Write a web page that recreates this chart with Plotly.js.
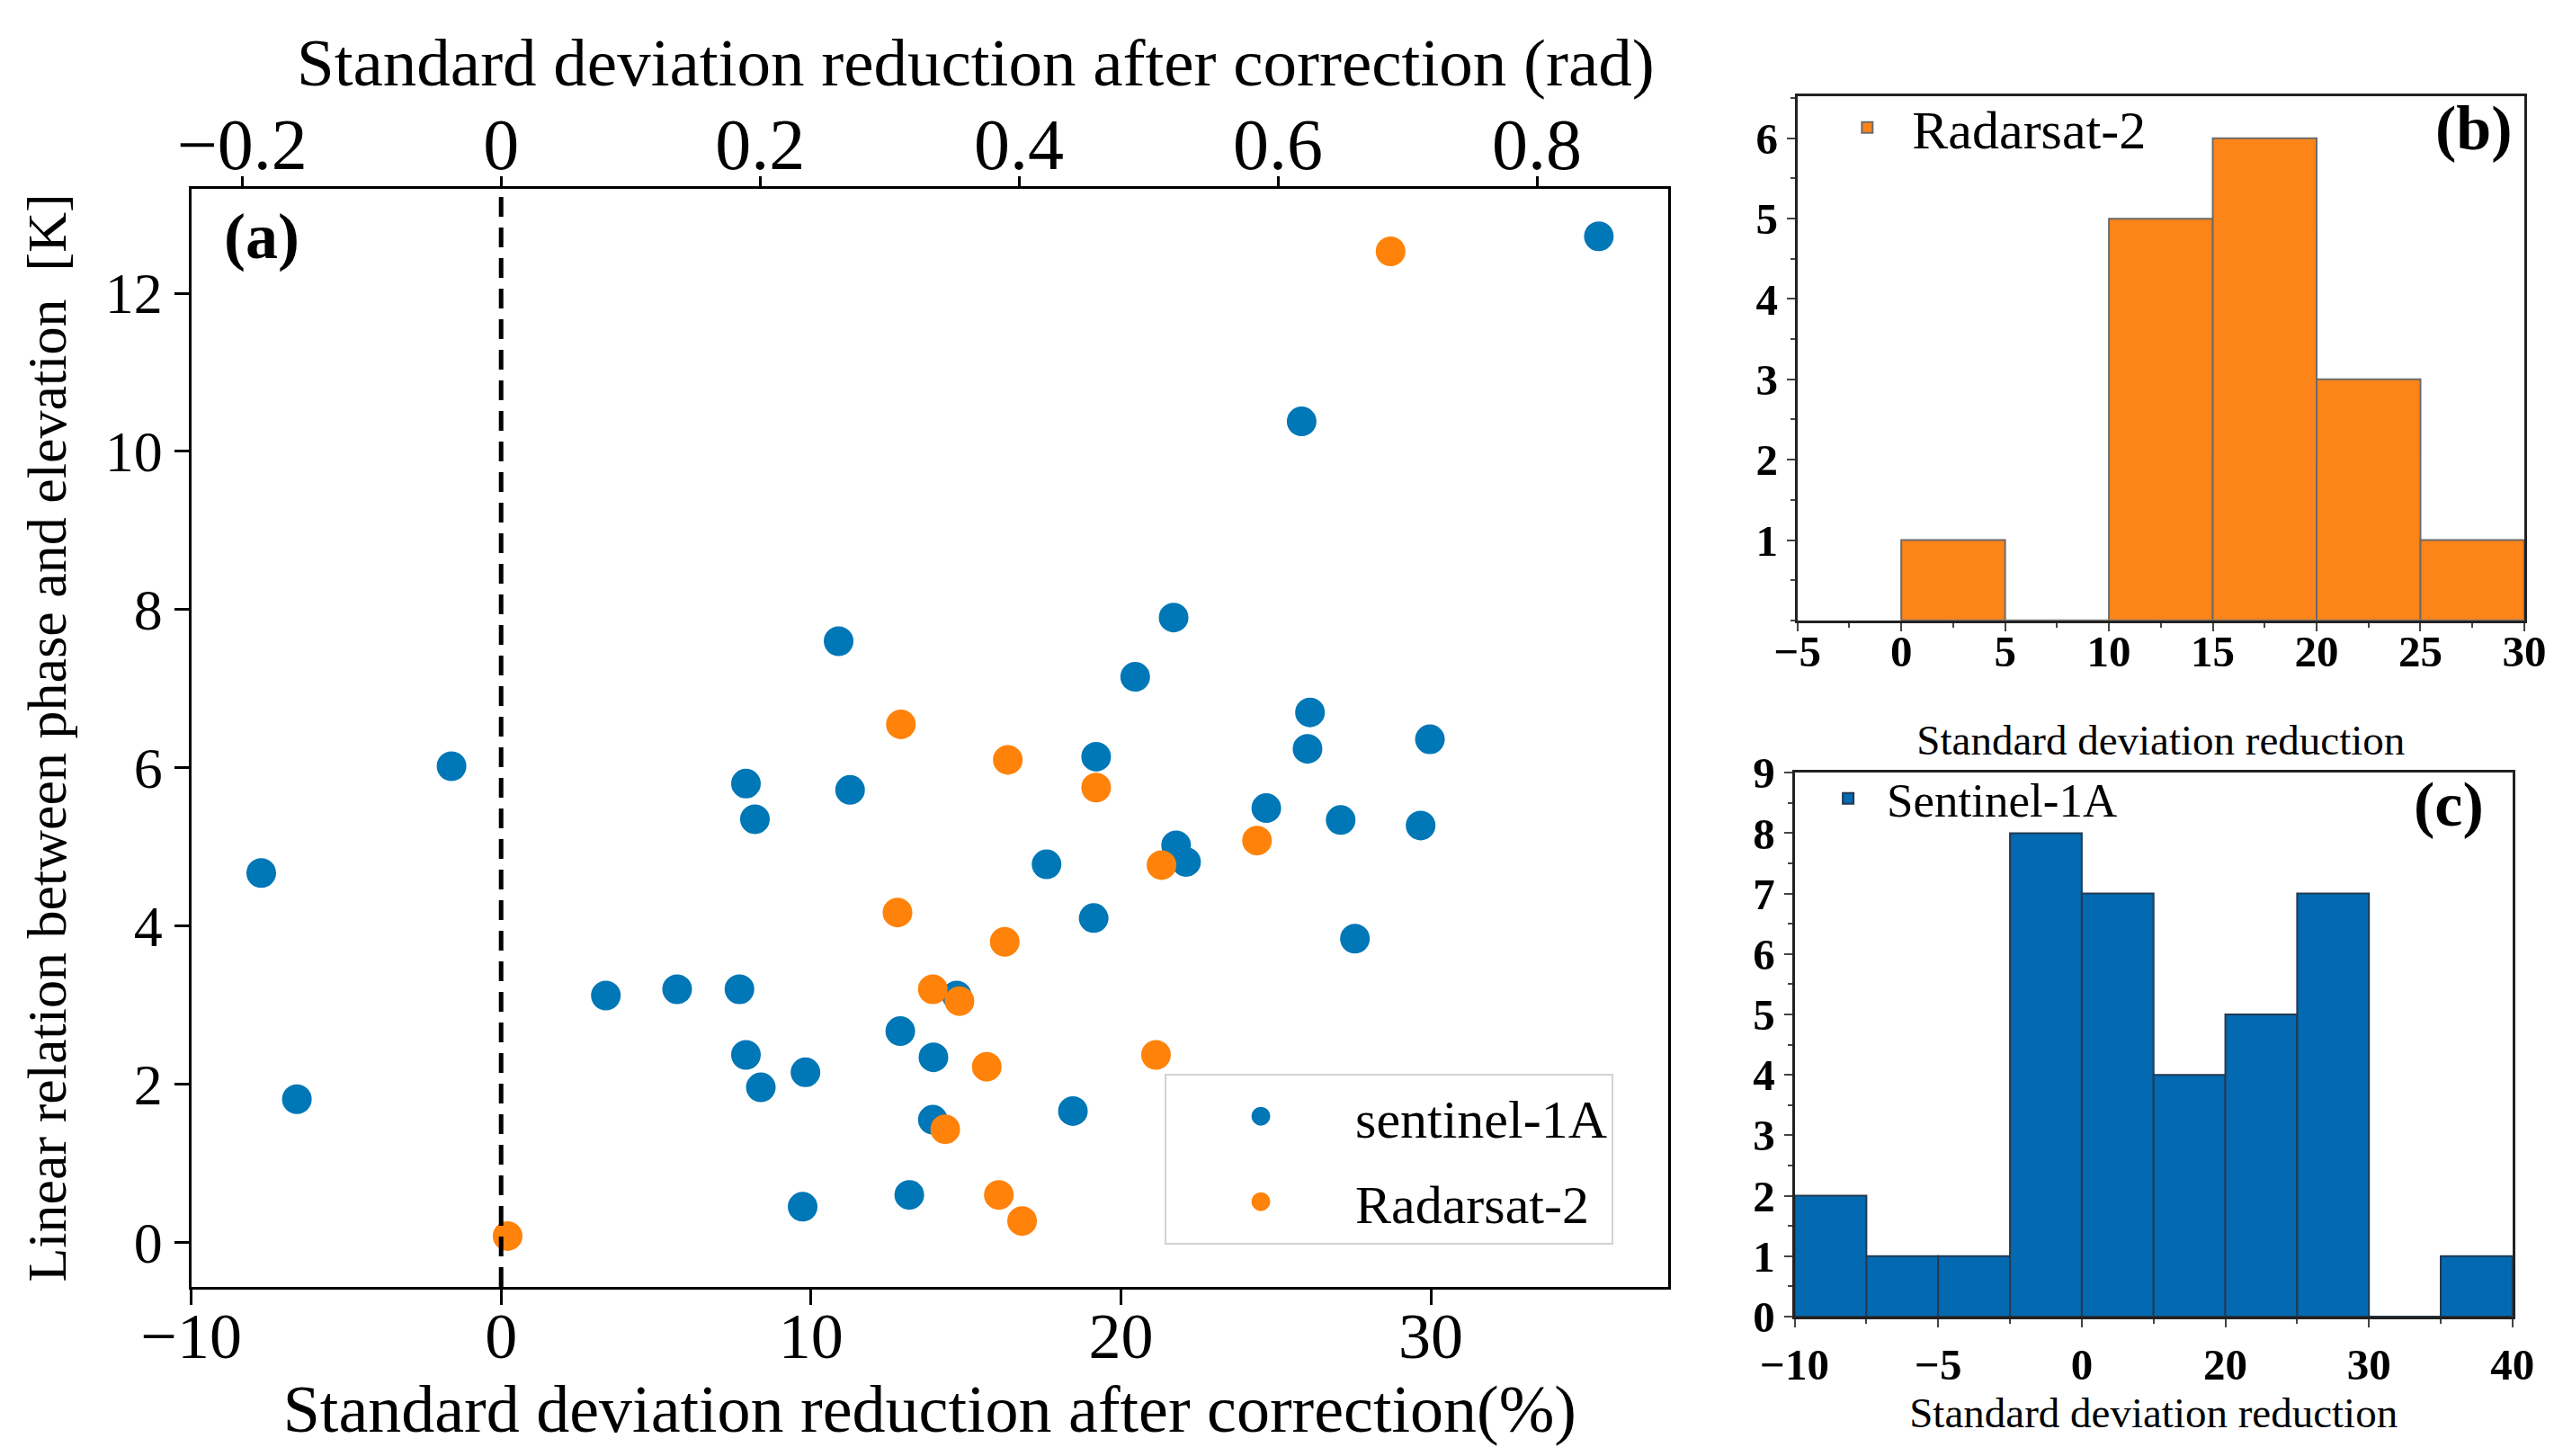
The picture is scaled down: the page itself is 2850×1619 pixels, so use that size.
<!DOCTYPE html>
<html>
<head>
<meta charset="utf-8">
<script src="https://cdn.plot.ly/plotly-3.0.1.min.js"></script>
<style>html,body{margin:0;padding:0;background:#fff;}#chart{width:2850px;height:1619px;}</style>
</head>
<body>
<div id="chart"></div>
<script>
// ---- Panel (a): scatter data (std. deviation reduction %, linear relation K) ----
var s1X = [35.42, 25.83, 10.89, 21.7, 20.46, -1.60, -7.74, -6.59, 7.90, 8.19, 11.26, 19.20,
           26.10, 26.02, 29.97, 24.69, 27.09, 29.67, 21.78, 22.10, 17.6, 19.12, 27.55, 3.38,
           5.68, 7.69, 7.90, 8.38, 9.82, 12.88, 13.95, 14.70, 13.93, 18.45, 9.73, 13.17];
var s1Y = [12.72, 10.38, 7.60, 7.90, 7.15, 6.02, 4.67, 1.81, 5.80, 5.35, 5.72, 6.14,
           6.70, 6.24, 6.36, 5.49, 5.34, 5.27, 5.02, 4.81, 4.78, 4.10, 3.84, 3.12,
           3.20, 3.20, 2.37, 1.96, 2.15, 2.67, 2.34, 3.12, 1.55, 1.66, 0.45, 0.60];
var rsX = [28.70, 12.9, 16.35, 19.20, 24.39, 21.31, 12.79, 16.25, 13.93, 14.79, 15.67, 21.13,
           14.33, 16.06, 16.81, 0.21];
var rsY = [12.53, 6.55, 6.10, 5.75, 5.08, 4.77, 4.17, 3.80, 3.20, 3.05, 2.22, 2.37,
           1.43, 0.60, 0.27, 0.08];

// ---- Panel (b): Radarsat-2 histogram ----
var rsBinEdges = [0, 5, 10, 15, 20, 25, 30];
var rsCounts = [1, 0, 5, 6, 3, 1];

// ---- Panel (c): Sentinel-1A histogram ----
var s1BinEdges = [-10, -5, 0, 5, 10, 15, 20, 25, 30, 35, 40];
var s1Counts = [2, 1, 1, 8, 7, 4, 5, 7, 0, 1];

// ---- tick labels ----
var cTickVals = [-10, 0, 10, 20, 30, 40];
var cTickText = ['\u221210', '\u22125', '0', '20', '30', '40'];

function mids(edges){ var m=[]; for(var i=0;i<edges.length-1;i++){ m.push((edges[i]+edges[i+1])/2); } return m; }
function widths(edges){ var w=[]; for(var i=0;i<edges.length-1;i++){ w.push(edges[i+1]-edges[i]); } return w; }

var SERIF = 'Liberation Serif, Times New Roman, serif';
var BLUE = '#0077b6', ORANGE = '#ff820a';

var traces = [
  {type:'scatter', mode:'markers', x:s1X, y:s1Y, name:'sentinel-1A', xaxis:'x', yaxis:'y',
   marker:{color:BLUE, size:28, line:{width:5, color:BLUE}}, legend:'legend', legendgroup:'g1'},
  {type:'scatter', mode:'markers', x:rsX, y:rsY, name:'Radarsat-2', xaxis:'x', yaxis:'y',
   marker:{color:ORANGE, size:28, line:{width:5, color:ORANGE}}, legend:'legend', legendgroup:'g2'},
  {type:'scatter', mode:'markers', x:[], y:[], xaxis:'x2', yaxis:'y', showlegend:false, hoverinfo:'skip'},
  {type:'bar', x:mids(rsBinEdges), y:rsCounts, width:widths(rsBinEdges), name:'Radarsat-2',
   xaxis:'x3', yaxis:'y3', legend:'legend2',
   marker:{color:'#fd8418', line:{color:'#6b6b6b', width:2}}},
  {type:'bar', x:mids(s1BinEdges), y:s1Counts, width:widths(s1BinEdges), name:'Sentinel-1A',
   xaxis:'x4', yaxis:'y4', legend:'legend3',
   marker:{color:'#0369b1', line:{color:'#223a52', width:2}}}
];

var axA = {showgrid:false, zeroline:false, showline:true, linecolor:'#000', linewidth:3,
           ticks:'outside', tickcolor:'#000', tickwidth:3};
function merge(a,b){ var o={}; for(var k in a) o[k]=a[k]; for(var k2 in b) o[k2]=b[k2]; return o; }

var histAx = {showgrid:false, zeroline:false, showline:true, mirror:true, linecolor:'#222', linewidth:3,
              ticks:'outside', ticklen:9, tickwidth:2, tickcolor:'#444',
              tickfont:{family:SERIF, size:49, color:'#000', weight:'bold'}};

var layout = {
  width:2850, height:1619, margin:{l:0,r:0,t:0,b:0},
  paper_bgcolor:'#fff', plot_bgcolor:'#fff',
  font:{family:SERIF, color:'#000'},
  bargap:0,
  showlegend:true,
  xaxis: merge(axA, {domain:[0.0746, 0.6509], range:[-10, 37.66], anchor:'y',
    tick0:0, dtick:10, ticklen:17, ticklabelstandoff:-27, tickfont:{family:SERIF, size:72},
    title:{text:'Standard deviation reduction after correction(%)', font:{family:SERIF, size:74}, standoff:3}}),
  xaxis2: merge(axA, {overlaying:'x', side:'top', anchor:'y', range:[-0.2393, 0.9014],
    tick0:0, dtick:0.2, ticklen:11, ticklabelstandoff:-24, tickfont:{family:SERIF, size:80}}),
  yaxis: merge(axA, {domain:[0.1161, 0.8703], range:[-0.564, 13.32], anchor:'x', mirror:true,
    tick0:0, dtick:2, ticklen:16, tickfont:{family:SERIF, size:64},
    title:{text:'Linear relation between phase and elevation \u00a0[K]', font:{family:SERIF, size:62}, standoff:24}}),
  xaxis3: merge(histAx, {domain:[0.7013, 0.9849], range:[-5, 30], anchor:'y3', tick0:0, dtick:5,
    ticklabelstandoff:-20,
    minor:{ticks:'outside', ticklen:5, dtick:2.5, tickcolor:'#444', tickwidth:2},
    title:{text:'Standard deviation reduction', font:{family:SERIF, size:47}, standoff:56}}),
  yaxis3: merge(histAx, {domain:[0.5739, 0.9337], range:[0, 6.52], anchor:'x3',
    tickvals:[1,2,3,4,5,6],
    minor:{ticks:'outside', ticklen:5, dtick:0.5, tickcolor:'#444', tickwidth:2}}),
  xaxis4: merge(histAx, {domain:[0.7002, 0.9803], range:[-10, 40], anchor:'y4',
    tickvals:cTickVals, ticktext:cTickText, ticklabelstandoff:-1,
    minor:{ticks:'outside', ticklen:5, dtick:5, tickcolor:'#444', tickwidth:2},
    title:{text:'Standard deviation reduction', font:{family:SERIF, size:47}, standoff:0}}),
  yaxis4: merge(histAx, {domain:[0.0958, 0.4693], range:[0, 9], anchor:'x4', dtick:1, tick0:0,
    minor:{ticks:'outside', ticklen:5, dtick:0.5, tickcolor:'#444', tickwidth:2}}),
  legend:{x:0.4544, y:0.2627, xanchor:'left', yanchor:'top', bgcolor:'#fff',
    bordercolor:'#d2d2d2', borderwidth:2, font:{family:SERIF, size:60, color:'#000'},
    itemwidth:200, tracegroupgap:14, traceorder:'grouped'},
  legend2:{x:0.711, y:0.9405, xanchor:'left', yanchor:'top', bgcolor:'rgba(0,0,0,0)', borderwidth:0,
    font:{family:SERIF, size:60, color:'#000'}, itemwidth:90},
  legend3:{x:0.706, y:0.477, xanchor:'left', yanchor:'top', bgcolor:'rgba(0,0,0,0)', borderwidth:0,
    font:{family:SERIF, size:53, color:'#000'}, itemwidth:76},
  shapes:[
    {type:'line', xref:'x', yref:'y domain', x0:0, x1:0, y0:0, y1:1, layer:'above',
     line:{color:'#000', width:5, dash:'22px,12px'}}
  ],
  annotations:[
    {text:'Standard deviation reduction after correction (rad)', xref:'paper', yref:'paper',
     x:0.3807, y:0.9568, xanchor:'center', yanchor:'middle', showarrow:false,
     font:{family:SERIF, size:75, color:'#000'}},
    {text:'<b>(a)</b>', xref:'paper', yref:'paper', x:0.1021, y:0.8376, xanchor:'center', yanchor:'middle',
     showarrow:false, font:{family:SERIF, size:72, color:'#000'}},
    {text:'<b>(b)</b>', xref:'paper', yref:'paper', x:0.9653, y:0.912, xanchor:'center', yanchor:'middle',
     showarrow:false, font:{family:SERIF, size:70, color:'#000'}},
    {text:'<b>(c)</b>', xref:'paper', yref:'paper', x:0.9554, y:0.4472, xanchor:'center', yanchor:'middle',
     showarrow:false, font:{family:SERIF, size:70, color:'#000'}}
  ]
};

Plotly.newPlot('chart', traces, layout, {displayModeBar:false, staticPlot:true});
</script>
</body>
</html>
